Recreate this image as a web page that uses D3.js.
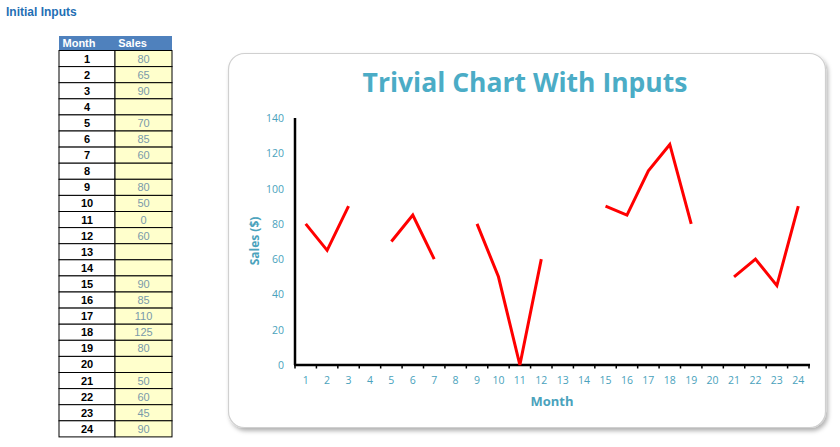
<!DOCTYPE html>
<html><head><meta charset="utf-8">
<script src="https://cdn.jsdelivr.net/npm/d3@7/dist/d3.min.js"></script>
<style>body{margin:0;background:#fff;}svg{display:block;}</style>
</head><body>
<svg id="c" width="840" height="447"></svg>
<script>
const months = d3.range(1, 25);
const sales = [80, 65, 90, null, 70, 85, 60, null, 80, 50, 0, 60, null, null, 90, 85, 110, 125, 80, null, 50, 60, 45, 90];
const yTicks = [0, 20, 40, 60, 80, 100, 120, 140];
const chartTitle = "Trivial Chart With Inputs";

const svg = d3.select("#c");
const teal = "#4BACC6";
const axTeal = "#4AA2BC";

// Sheet title
svg.append("text").attr("x", 6).attr("y", 16).text("Initial Inputs")
  .attr("font-family", "Arial, Liberation Sans, sans-serif").attr("font-weight", "bold")
  .attr("font-size", 12).attr("fill", "#1F6FB4");

// Table
const tx0 = 59, tx1 = 115, tx2 = 172, ty0 = 36, hh = 14.5, rh = 16.1;
const tbl = svg.append("g");
tbl.append("rect").attr("x", tx0).attr("y", ty0).attr("width", tx2 - tx0).attr("height", hh).attr("fill", "#4F81BD");
tbl.append("text").attr("x", (tx0 + tx1) / 2 - 8).attr("y", ty0 + 11).attr("text-anchor", "middle").text("Month")
  .attr("font-family", "Arial, Liberation Sans, sans-serif").attr("font-weight", "bold").attr("font-size", 11).attr("fill", "#fff");
tbl.append("text").attr("x", (tx1 + tx2) / 2 - 11).attr("y", ty0 + 11).attr("text-anchor", "middle").text("Sales")
  .attr("font-family", "Arial, Liberation Sans, sans-serif").attr("font-weight", "bold").attr("font-size", 11).attr("fill", "#fff");
months.forEach((m, i) => {
  const y = ty0 + hh + i * rh;
  tbl.append("rect").attr("x", tx0).attr("y", y).attr("width", tx1 - tx0).attr("height", rh)
    .attr("fill", "#fff").attr("stroke", "#000").attr("stroke-width", 1);
  tbl.append("rect").attr("x", tx1).attr("y", y).attr("width", tx2 - tx1).attr("height", rh)
    .attr("fill", "#FFFFCC").attr("stroke", "#000").attr("stroke-width", 1);
  tbl.append("text").attr("x", (tx0 + tx1) / 2).attr("y", y + 12).attr("text-anchor", "middle").text(m)
    .attr("font-family", "Arial, Liberation Sans, sans-serif").attr("font-weight", "bold").attr("font-size", 11).attr("fill", "#000");
  if (sales[i] !== null) {
    tbl.append("text").attr("x", (tx1 + tx2) / 2).attr("y", y + 12).attr("text-anchor", "middle").text(sales[i])
      .attr("font-family", "Arial, Liberation Sans, sans-serif").attr("font-size", 11).attr("fill", "#7A9AAA");
  }
});

// Chart box with shadow
const defs = svg.append("defs");
const f = defs.append("filter").attr("id", "sh").attr("x", "-5%").attr("y", "-5%").attr("width", "110%").attr("height", "115%");
f.append("feDropShadow").attr("dx", 2).attr("dy", 3).attr("stdDeviation", 2).attr("flood-color", "#000").attr("flood-opacity", 0.3);
svg.append("rect").attr("x", 228.5).attr("y", 53.5).attr("width", 597).attr("height", 374).attr("rx", 16)
  .attr("fill", "#fff").attr("stroke", "#D0D0D0").attr("stroke-width", 1.2).attr("filter", "url(#sh)");

svg.append("text").attr("x", 525).attr("y", 92).attr("text-anchor", "middle").text(chartTitle)
  .attr("font-family", "Open Sans, Lato, sans-serif").attr("font-weight", "bold").attr("font-size", 26.5).attr("fill", teal);

// Scales
const x = d3.scaleBand().domain(months).range([295, 809]);
const y = d3.scaleLinear().domain([0, 140]).range([365, 118]);

// Y axis labels
const yg = svg.append("g");
yg.selectAll("text").data(yTicks).join("text")
  .attr("x", 284).attr("y", d => y(d) + 4).attr("text-anchor", "end").text(d => d)
  .attr("font-family", "Open Sans, sans-serif").attr("font-size", 10.5).attr("fill", axTeal);
// Y axis line
svg.append("line").attr("x1", 295).attr("x2", 295).attr("y1", y(140)).attr("y2", y(0))
  .attr("stroke", "#000").attr("stroke-width", 2.5);

// X axis
const xg = svg.append("g");
const bounds = d3.range(0, 25).map(i => x.range()[0] + i * x.step());
xg.selectAll("line.t").data(bounds).join("line").attr("class", "t")
  .attr("x1", d => d).attr("x2", d => d).attr("y1", y(0)).attr("y2", y(0) + 3.5)
  .attr("stroke", "#000").attr("stroke-width", 1.5);
xg.append("line").attr("x1", 294).attr("x2", 810).attr("y1", y(0)).attr("y2", y(0))
  .attr("stroke", "#000").attr("stroke-width", 2.5);
xg.selectAll("text").data(months).join("text")
  .attr("x", d => x(d) + x.bandwidth() / 2).attr("y", y(0) + 19).attr("text-anchor", "middle").text(d => d)
  .attr("font-family", "Open Sans, sans-serif").attr("font-size", 10.5).attr("fill", axTeal);

// Axis titles
svg.append("text").attr("x", 552).attr("y", 406).attr("text-anchor", "middle").text("Month")
  .attr("font-family", "Open Sans, sans-serif").attr("font-weight", "bold").attr("font-size", 13).attr("fill", axTeal);
svg.append("text").attr("transform", "translate(259,241) rotate(-90)").attr("text-anchor", "middle").text("Sales ($)")
  .attr("font-family", "Open Sans, sans-serif").attr("font-weight", "bold").attr("font-size", 12).attr("fill", axTeal);

// Line
const line = d3.line().defined(d => d.v !== null)
  .x(d => x(d.m) + x.bandwidth() / 2).y(d => y(d.v));
svg.append("path").datum(months.map((m, i) => ({m, v: sales[i]})))
  .attr("d", line).attr("fill", "none").attr("stroke", "#FF0000").attr("stroke-width", 3)
  .attr("stroke-linejoin", "miter");
</script>
</body></html>
